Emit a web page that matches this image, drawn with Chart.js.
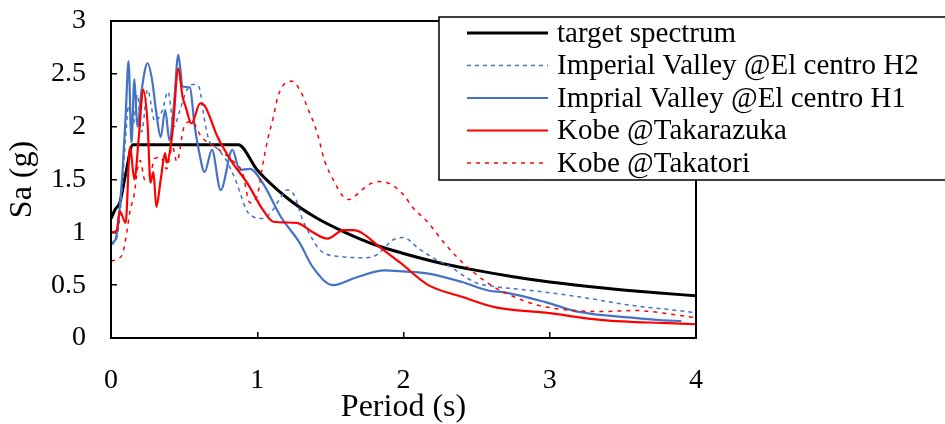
<!DOCTYPE html>
<html>
<head>
<meta charset="utf-8">
<script src="https://cdn.jsdelivr.net/npm/chart.js@4.4.1/dist/chart.umd.min.js"></script>
<style>
  body { margin: 0; background: #fff; }
</style>
</head>
<body>
<canvas id="spectrum" width="945" height="424"></canvas>
<script>
// values
const targetPeriod = [0, 0.03, 0.06, 0.1, 0.15, 0.87, 1.0, 1.2, 1.4, 1.6, 1.8, 2.0, 2.25, 2.5, 2.75, 3.0, 3.25, 3.5, 3.75, 4.0];
const targetSa = [1.13, 1.22, 1.28, 1.55, 1.83, 1.83, 1.59, 1.33, 1.14, 1.0, 0.885, 0.80, 0.71, 0.64, 0.58, 0.53, 0.49, 0.455, 0.425, 0.40];

const h2Period = [0, 0.04, 0.07, 0.1, 0.12, 0.15, 0.18, 0.21, 0.25, 0.3, 0.35, 0.39, 0.43, 0.47, 0.52, 0.56, 0.6, 0.64, 0.67, 0.72, 0.78, 0.85, 0.93, 0.97, 1.03, 1.1, 1.16, 1.2, 1.25, 1.31, 1.38, 1.43, 1.57, 1.75, 1.82, 1.93, 2.0, 2.1, 2.2, 2.3, 2.5, 2.61, 2.87, 3.2, 3.55, 3.81, 4.0];
const h2Sa = [0.88, 0.95, 1.3, 1.9, 2.2, 2.0, 2.3, 1.95, 2.35, 2.05, 2.15, 2.33, 2.0, 2.15, 2.35, 2.4, 2.38, 2.06, 1.87, 1.8, 1.7, 1.5, 1.2, 1.15, 1.13, 1.2, 1.33, 1.4, 1.36, 1.12, 0.93, 0.83, 0.77, 0.76, 0.79, 0.93, 0.95, 0.85, 0.76, 0.69, 0.52, 0.49, 0.45, 0.39, 0.31, 0.27, 0.24];

const h1Period = [0, 0.03, 0.05, 0.08, 0.1, 0.12, 0.14, 0.16, 0.18, 0.21, 0.25, 0.28, 0.31, 0.34, 0.37, 0.40, 0.43, 0.46, 0.49, 0.54, 0.57, 0.6, 0.64, 0.69, 0.75, 0.83, 0.88, 0.95, 1.04, 1.16, 1.29, 1.38, 1.52, 1.67, 1.87, 2.0, 2.17, 2.4, 2.58, 2.7, 2.97, 3.19, 3.58, 3.75, 3.9];
const h1Sa = [0.9, 0.93, 1.1, 1.6, 2.1, 2.62, 1.85, 2.45, 2.0, 2.35, 2.6, 2.45, 2.13, 1.9, 2.16, 1.87, 2.2, 2.68, 2.38, 2.37, 2.03, 1.78, 1.57, 1.78, 1.40, 1.78, 1.59, 1.6, 1.46, 1.15, 0.9, 0.67, 0.50, 0.57, 0.64, 0.63, 0.61, 0.53, 0.45, 0.43, 0.34, 0.25, 0.19, 0.17, 0.16];

const takarazukaPeriod = [0, 0.04, 0.06, 0.1, 0.13, 0.16, 0.19, 0.22, 0.25, 0.27, 0.29, 0.31, 0.34, 0.37, 0.38, 0.42, 0.46, 0.49, 0.51, 0.55, 0.61, 0.64, 0.73, 0.83, 0.93, 1.04, 1.11, 1.27, 1.38, 1.48, 1.59, 1.66, 1.72, 1.82, 1.98, 2.17, 2.4, 2.63, 2.97, 3.36, 3.81, 4.0];
const takarazukaSa = [1.0, 1.02, 1.2, 1.09, 1.81, 1.5, 1.9, 2.35, 2.03, 1.47, 1.57, 1.24, 1.5, 1.75, 1.66, 1.94, 2.55, 2.28, 2.19, 2.03, 2.22, 2.2, 1.9, 1.66, 1.47, 1.21, 1.1, 1.09, 1.0, 0.94, 1.02, 1.02, 0.99, 0.88, 0.71, 0.5, 0.39, 0.29, 0.24, 0.17, 0.14, 0.13];

const takatoriPeriod = [0, 0.05, 0.08, 0.1, 0.13, 0.16, 0.18, 0.2, 0.23, 0.27, 0.3, 0.34, 0.38, 0.42, 0.45, 0.5, 0.55, 0.62, 0.72, 0.83, 0.9, 0.95, 1.0, 1.04, 1.07, 1.11, 1.14, 1.19, 1.24, 1.29, 1.35, 1.41, 1.46, 1.53, 1.58, 1.63, 1.69, 1.76, 1.83, 1.92, 2.01, 2.06, 2.17, 2.26, 2.37, 2.48, 2.61, 2.81, 2.95, 3.36, 3.58, 3.86, 4.0];
const takatoriSa = [0.73, 0.75, 0.8, 0.93, 1.2, 1.37, 1.59, 1.68, 1.5, 1.56, 1.7, 1.71, 1.6, 1.81, 1.67, 2.0, 2.05, 1.9, 1.8, 1.68, 1.56, 1.28, 1.35, 1.66, 1.87, 2.09, 2.28, 2.41, 2.43, 2.35, 2.16, 1.94, 1.68, 1.47, 1.35, 1.31, 1.37, 1.45, 1.48, 1.45, 1.34, 1.24, 1.09, 0.93, 0.76, 0.62, 0.49, 0.36, 0.3, 0.25, 0.26, 0.22, 0.19];

const seriesNames = [
    'target spectrum',
    'Imperial Valley @El centro H2',
    'Imprial Valley @El centro H1',
    'Kobe @Takarazuka',
    'Kobe @Takatori'
];

function toPoints(xs, ys) {
    return xs.map(function(x, i) { return { x: x, y: ys[i] }; });
}

// plot frame + boxed legend in the upper right, like the Excel original
const frameAndLegend = {
    id: 'frameAndLegend',
    afterDraw(chart) {
        const ctx = chart.ctx;
        const a = chart.chartArea;
        ctx.save();
        ctx.strokeStyle = '#000';
        ctx.lineWidth = 2;
        ctx.strokeRect(a.left, a.top, a.right - a.left, a.bottom - a.top);

        ctx.fillStyle = '#fff';
        ctx.fillRect(439, 17, 520, 163);
        ctx.lineWidth = 1.5;
        ctx.strokeRect(439, 17, 520, 163);

        ctx.font = '29px "Liberation Serif"';
        ctx.textBaseline = 'middle';
        chart.data.datasets.forEach(function(ds, i) {
            const y = 33 + i * 32.5;
            ctx.beginPath();
            ctx.setLineDash(ds.borderDash || []);
            ctx.strokeStyle = ds.borderColor;
            ctx.lineWidth = ds.borderWidth;
            ctx.moveTo(467, y);
            ctx.lineTo(548, y);
            ctx.stroke();
            ctx.setLineDash([]);
            ctx.fillStyle = '#000';
            ctx.fillText(ds.label, 557, y + 1);
        });
        ctx.restore();
    }
};

const spectrumData = {
    datasets: [{
        label: seriesNames[0],
        data: toPoints(targetPeriod, targetSa),
        borderColor: '#000000',
        borderWidth: 3,
        order: 5
    }, {
        label: seriesNames[1],
        data: toPoints(h2Period, h2Sa),
        borderColor: '#4472C4',
        borderWidth: 1.5,
        borderDash: [4, 4],
        order: 4
    }, {
        label: seriesNames[2],
        data: toPoints(h1Period, h1Sa),
        borderColor: '#4472C4',
        borderWidth: 2.2,
        order: 3
    }, {
        label: seriesNames[3],
        data: toPoints(takarazukaPeriod, takarazukaSa),
        borderColor: '#FF0000',
        borderWidth: 2.2,
        order: 2
    }, {
        label: seriesNames[4],
        data: toPoints(takatoriPeriod, takatoriSa),
        borderColor: '#FF0000',
        borderWidth: 1.5,
        borderDash: [4, 5],
        order: 1
    }]
};

Chart.defaults.color = '#000';
Chart.defaults.font.family = '"Liberation Serif", "Times New Roman", serif';

const spectrumConfig = {
    type: 'line',
    data: spectrumData,
    options: {
        responsive: false,
        animation: false,
        layout: {
            padding: { left: 0, right: 249, top: 21, bottom: 0 }
        },
        elements: {
            point: { radius: 0 },
            line: { cubicInterpolationMode: 'monotone', fill: false }
        },
        plugins: {
            legend: { display: false },
            tooltip: { enabled: false }
        },
        scales: {
            x: {
                type: 'linear',
                min: 0,
                max: 4,
                ticks: {
                    stepSize: 1,
                    padding: 32,
                    font: { size: 28 }
                },
                grid: {
                    drawOnChartArea: false,
                    tickLength: -6,
                    color: '#000',
                    lineWidth: 1.5
                },
                border: { color: '#000', width: 2 },
                title: {
                    display: true,
                    text: 'Period (s)',
                    font: { size: 32 },
                    padding: { top: 0, bottom: -3 }
                },
                afterFit: function(scale) {
                    scale.height = 86;
                    scale.paddingLeft = 0;
                    scale.paddingRight = 0;
                }
            },
            y: {
                min: 0,
                max: 3,
                ticks: {
                    stepSize: 0.5,
                    padding: 31,
                    font: { size: 28 },
                    callback: function(value) {
                        return String(value);
                    }
                },
                grid: {
                    drawOnChartArea: false,
                    tickLength: -6,
                    color: '#000',
                    lineWidth: 1.5
                },
                border: { color: '#000', width: 2 },
                title: {
                    display: true,
                    text: 'Sa (g)',
                    font: { size: 32 },
                    padding: { top: 3, bottom: 0 }
                },
                afterFit: function(scale) {
                    scale.width = 111;
                    scale.paddingTop = 0;
                    scale.paddingBottom = 0;
                }
            }
        }
    },
    plugins: [frameAndLegend]
};

var spectrumChart = new Chart(
    document.getElementById('spectrum'),
    spectrumConfig
);
</script>
</body>
</html>
